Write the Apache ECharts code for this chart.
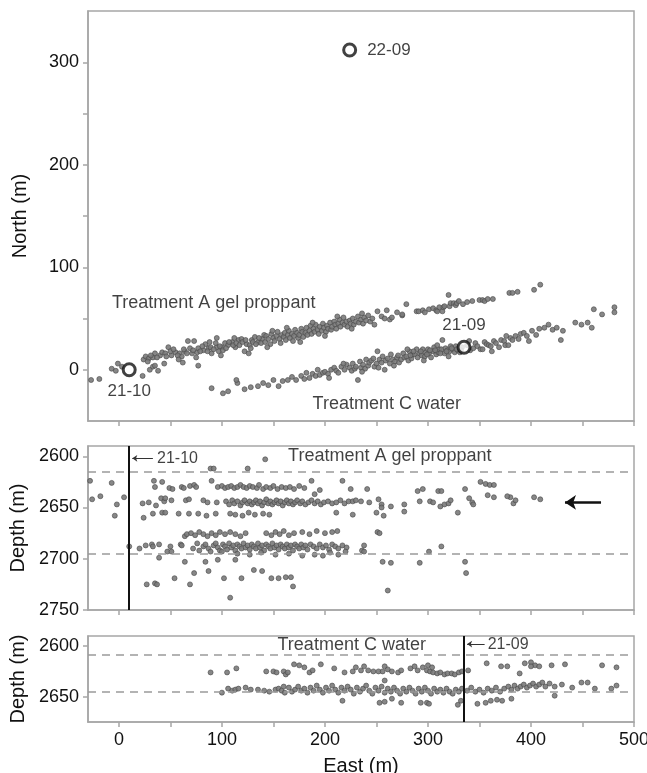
<!DOCTYPE html>
<html>
<head>
<meta charset="utf-8">
<script src="https://cdn.jsdelivr.net/npm/echarts@6/dist/echarts.min.js"></script>
<style>
  html, body { margin: 0; padding: 0; background: #fff; }
  #main { width: 647px; height: 773px; }
</style>
</head>
<body>
<div id="main"></div>
<script>
// axis ticks / labels
const eastTicks = [0, 50, 100, 150, 200, 250, 300, 350, 400, 450, 500];
const eastLabels = [0, 100, 200, 300, 400, 500];
const northTicks = [0, 50, 100, 150, 200, 250, 300];
const northLabels = [0, 100, 200, 300];
const depthATicks = [2600, 2650, 2700, 2750];
const depthCTicks = [2600, 2650];

// wells in map view [east, north]
const wellNames = ['22-09', '21-10', '21-09'];
const wellMap = [[224, 312], [10, 0], [335, 22]];
const wellLabelPos = ['right', 'bottom', 'top'];
const wellDepthA = 10;   // 21-10 east position
const wellDepthC = 335;  // 21-09 east position

// stage boundaries (depth)
const stageA = [2615, 2695];
const stageC = [2609, 2645];

// map view events: Treatment A [east, north]
const mapA = [
  [-27,-10],[-19,-9],[-7,1],[-3,-1],[-1,6],[3,3],[23,-6],[30,0],[33,3],[35,4],[38,-1],[44,6],[62,7],[77,4],
  [24,10],[26,13],[29,11],[33,12],[35,16],[40,14],[42,17],[45,16],[48,22],[51,14],[55,17],[59,16],[61,13],
  [64,18],[67,28],[71,16],[73,28],[76,17],[77,21],[82,19],[84,25],[87,21],[90,16],[95,31],[95,22],[97,18],
  [100,22],[103,26],[106,24],[110,27],[113,22],[116,29],[119,30],[122,18],[124,25],[126,16],[129,29],[132,32],
  [135,27],[139,30],[141,34],[28,8],[31,14],[37,12],[46,13],[50,18],[53,20],[57,14],[63,20],[66,16],[69,21],
  [72,19],[79,18],[81,23],[86,18],[89,22],[92,20],[94,26],[98,23],[101,19],[104,21],[107,27],[111,24],[114,26],
  [117,24],[120,27],[123,29],[127,24],[130,27],[133,25],[136,31],[138,26],
  [142,27],[143,33],[145,30],[147,25],[148,35],[150,31],[151,28],[153,33],[154,37],[156,30],[157,26],[158,34],
  [160,32],[161,36],[162,29],[164,34],[165,38],[166,31],[168,35],[169,28],[170,33],[171,39],[173,36],[174,31],
  [175,34],[177,40],[178,37],[179,32],[181,36],[182,41],[183,34],[185,38],[186,43],[187,35],[189,40],[190,37],
  [191,44],[193,39],[194,35],[195,42],[197,38],[198,45],[199,41],[201,37],[202,43],[203,40],[205,46],[206,39],
  [207,42],[209,47],[210,44],[211,40],[213,45],[214,49],[215,42],[217,46],[218,51],[219,44],[221,47],[222,42],
  [224,48],[225,45],[227,50],[228,44],[230,47],[232,52],[233,46],[235,49],[237,45],[238,51],[240,48],[242,53],
  [244,47],[246,50],[251,57],[255,52],[258,50],[263,49],[265,51],[270,56],[275,53],[275,54],[279,64],
  [289,57],[291,57],[295,58],[297,56],[301,59],[305,60],[308,58],[309,57],[311,61],[314,57],[315,61],[316,62],
  [320,73],[321,62],[322,65],[325,65],[327,63],[328,65],[330,67],[334,64],[338,66],[343,67],[350,68],[353,68],
  [355,67],[358,69],[363,69],[379,75],[382,75],[387,76],[403,78],[409,83],
  [58,10],[75,12],[88,27],[99,14],[112,31],[128,21],[144,22],[149,38],[163,41],[176,27],[188,46],[200,33],
  [212,52],[226,40],[236,55],[248,44],[260,58]
];

// map view events: Treatment C [east, north]
const mapC = [
  [90,-18],[101,-23],[106,-21],[115,-13],[114,-10],[122,-19],[135,-16],[128,-17],[140,-13],[145,-15],[150,-10],
  [155,-16],[159,-11],[164,-10],[168,-7],[172,-10],[177,-6],[180,-9],[185,-8],[188,-4],[191,-6],[193,0],[195,-5],
  [198,-3],[200,-2],[203,-4],[206,0],[209,2],[211,-1],[213,-3],[216,3],[219,0],[221,5],[224,2],[226,-1],[227,6],
  [229,1],[230,3],[232,-10],[234,8],[235,2],[237,5],[239,1],[240,10],[242,4],[243,7],[245,9],[247,11],[248,3],
  [250,6],[251,18],[253,10],[255,7],[256,13],[258,0],[259,9],[261,11],[263,6],[264,15],[266,10],[268,8],[270,12],
  [271,14],[272,7],[274,10],[276,16],[277,12],[279,13],[281,9],[282,18],[284,11],[285,15],[287,15],[289,20],
  [290,12],[292,16],[294,14],[295,20],[297,13],[298,17],[300,20],[301,16],[303,12],[305,18],[306,22],[308,15],
  [310,17],[311,20],[313,20],[314,29],[316,16],[317,21],[319,19],[321,18],[322,23],[324,20],[326,17],[327,23],
  [329,19],[331,17],[333,22],[338,24],[341,19],[344,21],[346,26],[348,23],[351,20],[353,20],[355,27],[357,25],
  [359,24],[361,23],[364,28],[366,26],[369,22],[371,29],[374,28],[375,24],[378,24],[380,31],[382,29],[385,33],
  [388,30],[390,35],[393,36],[396,33],[401,38],[405,34],[408,40],[413,41],[417,44],[421,39],[425,41],[429,29],
  [431,38],[443,46],[449,44],[455,46],[459,41],[461,59],[469,54],[481,61],[481,56],
  [283,14],[286,18],[293,18],[299,15],[302,19],[307,19],[312,16],[318,18],[323,21],[328,20],[332,19],
  [182,-3],[204,-8],[218,6],[236,-2],[252,2],[267,4],[280,20],[296,9],[309,24],[320,13],[340,28],[362,18],
  [376,33],[398,28]
];

// depth view events: Treatment A [east, depth]
const depthA = [
  [-28,2624],[-26,2642],[-18,2639],[-7,2626],[-4,2658],[-2,2647],[5,2640],[10,2688],
  [34,2624],[35,2630],[42,2625],[49,2631],[52,2632],[61,2630],[63,2631],[69,2629],[73,2628],[75,2630],
  [89,2612],[92,2612],[125,2612],[142,2603],
  [90,2624],[96,2630],[100,2629],[103,2631],[106,2630],[109,2629],[112,2631],[115,2630],[118,2628],[121,2630],
  [124,2631],[127,2629],[130,2630],[134,2631],[136,2628],[140,2632],[143,2630],[147,2631],[150,2629],[154,2632],
  [158,2630],[162,2631],[166,2630],[170,2632],[175,2629],[180,2631],[187,2624],[190,2637],[195,2633],
  [217,2624],[225,2632],[241,2632],
  [23,2646],[29,2645],[36,2648],[41,2641],[44,2644],[45,2641],[51,2643],[65,2643],[68,2642],[82,2643],[86,2645],
  [95,2645],[104,2644],[107,2647],[110,2643],[112,2646],[115,2644],[118,2648],[120,2645],[122,2643],[125,2646],
  [127,2644],[129,2647],[131,2645],[133,2643],[135,2646],[137,2644],[139,2648],[141,2645],[143,2642],[145,2646],
  [147,2644],[149,2647],[151,2645],[153,2643],[155,2646],[157,2644],[159,2648],[161,2645],[163,2643],[165,2646],
  [167,2644],[169,2647],[171,2645],[173,2643],[176,2646],[178,2644],[181,2647],[184,2645],[187,2643],[190,2646],
  [193,2644],[196,2647],[199,2645],[203,2644],[207,2646],[211,2645],[215,2643],[219,2646],[223,2644],[227,2644],
  [230,2643],[235,2644],[243,2645],[252,2642],[255,2647],[264,2649],[277,2647],[292,2644],[302,2644],[305,2645],
  [312,2649],[316,2647],[320,2646],[322,2643],[343,2645],[344,2647],[340,2641],[358,2638],[364,2640],[380,2640],
  [383,2646],[377,2639],[385,2643],[403,2640],[409,2642],[290,2634],[295,2632],[310,2634],[313,2634],[336,2632],
  [351,2625],[356,2627],[360,2628],[364,2628],[255,2650],
  [24,2660],[33,2656],[42,2655],[45,2655],[58,2656],[68,2656],[77,2656],[85,2658],[94,2656],[108,2656],[113,2657],
  [120,2658],[126,2655],[132,2657],[140,2656],[146,2657],[211,2655],[227,2657],[250,2655],[257,2658],[277,2654],
  [329,2655],
  [64,2678],[66,2676],[70,2675],[74,2677],[78,2674],[82,2676],[86,2678],[90,2675],[94,2677],[98,2674],[103,2676],
  [108,2674],[113,2676],[118,2678],[123,2675],[143,2675],[148,2677],[152,2674],[156,2676],[160,2673],[165,2677],
  [170,2675],[178,2674],[185,2676],[192,2673],[200,2675],[207,2674],[212,2673],[251,2674],[253,2675],
  [20,2690],[26,2687],[32,2686],[33,2688],[39,2686],[47,2693],[50,2688],[51,2693],[60,2686],[61,2687],[72,2690],
  [76,2685],[78,2692],[82,2688],[84,2686],[87,2690],[89,2693],[92,2687],[94,2685],[96,2689],[98,2692],[101,2686],
  [103,2688],[105,2691],[107,2685],[109,2689],[111,2687],[113,2692],[115,2686],[117,2688],[119,2690],[121,2685],
  [123,2689],[125,2687],[127,2691],[129,2686],[131,2688],[133,2690],[135,2685],[137,2689],[139,2687],[141,2692],
  [143,2686],[145,2688],[147,2690],[149,2685],[151,2689],[153,2687],[155,2691],[157,2686],[159,2688],[161,2690],
  [163,2686],[165,2689],[167,2687],[169,2692],[171,2686],[173,2688],[175,2690],[177,2686],[179,2689],[181,2687],
  [183,2691],[186,2686],[189,2688],[192,2690],[195,2686],[198,2689],[201,2687],[204,2691],[207,2686],[210,2688],
  [213,2690],[217,2687],[221,2689],[236,2692],[238,2687],[238,2693],
  [100,2693],[115,2695],[127,2696],[138,2694],[152,2696],[165,2695],[178,2697],[190,2696],[198,2697],[205,2694],
  [213,2696],[220,2693],[301,2693],[313,2688],
  [27,2725],[35,2724],[37,2725],[39,2699],[54,2719],[64,2703],[69,2725],[73,2714],[84,2703],[87,2712],[96,2701],
  [102,2719],[108,2738],[113,2701],[119,2719],[131,2711],[139,2712],[148,2719],[155,2719],[162,2718],[167,2718],
  [169,2727],[256,2703],[264,2704],[261,2731],[292,2704],[336,2703],[337,2714]
];

// depth view events: Treatment C [east, depth]
const depthC = [
  [89,2626],[105,2626],[114,2622],[143,2625],[150,2625],[153,2626],[160,2625],[162,2628],
  [164,2626],[170,2618],[175,2619],[180,2621],[185,2626],[188,2624],[196,2618],[209,2622],[219,2626],[227,2625],
  [230,2621],[235,2624],[238,2620],[242,2624],[247,2625],[252,2625],[256,2625],[258,2620],[261,2623],[265,2625],
  [271,2626],[274,2624],[283,2622],[287,2620],[290,2624],[295,2621],[300,2619],[299,2624],[302,2625],[304,2621],
  [305,2626],[309,2627],[312,2626],[316,2628],[319,2627],[323,2627],[326,2628],[330,2626],[333,2625],[339,2624],
  [357,2617],[371,2620],[377,2620],[389,2627],[394,2617],[400,2616],[404,2619],[408,2620],[420,2619],[433,2618],
  [400,2620],[469,2619],[483,2621],
  [100,2646],[106,2642],[110,2644],[113,2643],[116,2642],[123,2641],[128,2643],[135,2643],[141,2644],[146,2645],
  [152,2643],[155,2642],[158,2644],[160,2640],[161,2646],[165,2641],[168,2645],[171,2643],[174,2640],[177,2644],
  [180,2642],[183,2646],[186,2641],[189,2644],[192,2639],[195,2643],[198,2646],[201,2641],[204,2644],[207,2639],
  [210,2643],[213,2646],[216,2641],[219,2644],[222,2640],[225,2643],[228,2647],[231,2641],[234,2645],[237,2642],
  [240,2639],[243,2644],[246,2647],[249,2641],[252,2644],[255,2640],[258,2634],[258,2646],[261,2642],[264,2645],
  [267,2641],[270,2644],[273,2647],[276,2642],[279,2645],[282,2641],[285,2644],[288,2647],[291,2642],[294,2645],
  [297,2641],[300,2644],[303,2647],[306,2642],[309,2645],[312,2643],[315,2646],[318,2642],[321,2645],[324,2647],
  [327,2643],[330,2645],[333,2642],[338,2644],[342,2641],[346,2645],[350,2643],[354,2646],[358,2642],[362,2644],
  [366,2641],[370,2645],[374,2642],[378,2640],[381,2643],[384,2639],[387,2642],[390,2640],[393,2638],[396,2641],
  [399,2639],[402,2637],[405,2640],[408,2638],[411,2636],[414,2640],[418,2637],[423,2640],[430,2638],[440,2641],
  [449,2636],[455,2636],[462,2642],[478,2642],[483,2639],
  [217,2654],[253,2656],[258,2655],[265,2652],[274,2656],[293,2656],[299,2656],[301,2657],[329,2658],[332,2654],
  [348,2657],[356,2656],[361,2654],[367,2653],[372,2654],[381,2652],[423,2649]
];

// text annotations [east, y, text]
const notesMap = [[92, 65, 'Treatment A gel proppant'], [260, -33, 'Treatment C water']];
const notesA = [[263, 2600, 'Treatment A gel proppant']];
const notesC = [[226, 2599, 'Treatment C water']];

const chart = echarts.init(document.getElementById('main'));
const FONT = 'Liberation Sans, Arial, Helvetica, sans-serif';
const frame = '#a6a6a6';
const dotStyle = { color: '#7a7a7a', borderColor: '#4a4a4a', borderWidth: 0.7, opacity: 0.9 };

function xAxisFor(gi, withLabels) {
  return {
    type: 'value', gridIndex: gi, min: -30, max: 500,
    name: withLabels ? 'East (m)' : '',
    nameLocation: 'middle', nameGap: 34,
    nameTextStyle: { fontFamily: FONT, fontSize: 20, color: '#111' },
    axisLine: { show: true, onZero: false, lineStyle: { color: frame, width: 1.5 } },
    axisTick: { show: true, length: 5, lineStyle: { color: frame, width: 1.5 }, customValues: eastTicks },
    axisLabel: { show: withLabels, customValues: eastLabels, margin: 9, fontFamily: FONT, fontSize: 18, color: '#111',
                 formatter: v => String(v) },
    splitLine: { show: false }
  };
}
function yAxisFor(gi, min, max, ticks, labels, name, inverse) {
  return {
    type: 'value', gridIndex: gi, min: min, max: max, inverse: inverse,
    name: name, nameLocation: 'middle', nameGap: 58, nameRotate: 90,
    nameTextStyle: { fontFamily: FONT, fontSize: 20, color: '#111' },
    axisLine: { show: true, onZero: false, lineStyle: { color: frame, width: 1.5 } },
    axisTick: { show: true, length: 5, lineStyle: { color: frame, width: 1.5 }, customValues: ticks },
    axisLabel: { customValues: labels, margin: 9, fontFamily: FONT, fontSize: 18, color: '#111',
                 formatter: v => String(v) },
    splitLine: { show: false }
  };
}
function textSeries(xi, yi, notes, size) {
  return {
    type: 'scatter', xAxisIndex: xi, yAxisIndex: yi, symbolSize: 0, silent: true, z: 5,
    data: notes.map(n => ({ value: [n[0], n[1]], name: n[2] })),
    label: { show: true, position: 'inside', formatter: p => p.name, fontFamily: FONT, fontSize: size, color: '#111' }
  };
}
const dashed = { color: '#9a9a9a', type: [8, 6], width: 1.5 };
const gridBase = { left: 88, width: 546, show: true, borderColor: frame, borderWidth: 1.5,
                   containLabel: false, outerBoundsMode: 'none' };

const option = {
  animation: false,
  backgroundColor: '#fff',
  grid: [
    Object.assign({ top: 11, height: 410 }, gridBase),
    Object.assign({ top: 446, height: 164 }, gridBase),
    Object.assign({ top: 636, height: 86 }, gridBase)
  ],
  xAxis: [xAxisFor(0, false), xAxisFor(1, false), xAxisFor(2, true)],
  yAxis: [
    yAxisFor(0, -50, 350, northTicks, northLabels, 'North (m)', false),
    yAxisFor(1, 2590, 2750, depthATicks, depthATicks, 'Depth (m)', true),
    yAxisFor(2, 2590, 2675, depthCTicks, depthCTicks, 'Depth (m)', true)
  ],
  series: [
    { type: 'scatter', xAxisIndex: 0, yAxisIndex: 0, symbolSize: 5, itemStyle: dotStyle, data: mapA },
    { type: 'scatter', xAxisIndex: 0, yAxisIndex: 0, symbolSize: 5, itemStyle: dotStyle, data: mapC },
    {
      type: 'scatter', xAxisIndex: 0, yAxisIndex: 0, symbolSize: 12, z: 4,
      itemStyle: { color: '#fff', borderColor: '#111', borderWidth: 3 },
      data: wellMap.map((w, i) => ({
        value: w, name: wellNames[i],
        label: { position: wellLabelPos[i], distance: i === 0 ? 10 : 6 }
      })),
      label: { show: true, formatter: p => p.name, fontFamily: FONT, fontSize: 17, color: '#111' }
    },
    textSeries(0, 0, notesMap, 18),
    {
      type: 'scatter', xAxisIndex: 1, yAxisIndex: 1, symbolSize: 5, itemStyle: dotStyle, data: depthA,
      markLine: {
        silent: true, symbol: ['none', 'none'], label: { show: false },
        data: [
          { yAxis: stageA[0], lineStyle: dashed },
          { yAxis: stageA[1], lineStyle: dashed },
          { xAxis: wellDepthA, lineStyle: { color: '#111', width: 2, type: 'solid' } },
          [{ coord: [33, 2602], symbol: 'none' },
           { coord: [13, 2602], symbol: 'arrow', symbolSize: 5, lineStyle: { color: '#333', width: 1, type: 'solid' } }],
          [{ coord: [468, 2645], symbol: 'none' },
           { coord: [433, 2645], symbol: 'arrow', symbolSize: 11, lineStyle: { color: '#111', width: 2.5, type: 'solid' } }]
        ]
      }
    },
    textSeries(1, 1, notesA, 18),
    {
      type: 'scatter', xAxisIndex: 1, yAxisIndex: 1, symbolSize: 0, silent: true,
      data: [{ value: [37, 2602], name: '21-10' }],
      label: { show: true, position: 'right', distance: 0, formatter: p => p.name, fontFamily: FONT, fontSize: 16, color: '#111' }
    },
    {
      type: 'scatter', xAxisIndex: 2, yAxisIndex: 2, symbolSize: 5, itemStyle: dotStyle, data: depthC,
      markLine: {
        silent: true, symbol: ['none', 'none'], label: { show: false },
        data: [
          { yAxis: stageC[0], lineStyle: dashed },
          { yAxis: stageC[1], lineStyle: dashed },
          { xAxis: wellDepthC, lineStyle: { color: '#111', width: 2, type: 'solid' } },
          [{ coord: [355, 2598], symbol: 'none' },
           { coord: [338, 2598], symbol: 'arrow', symbolSize: 5, lineStyle: { color: '#333', width: 1, type: 'solid' } }]
        ]
      }
    },
    textSeries(2, 2, notesC, 18),
    {
      type: 'scatter', xAxisIndex: 2, yAxisIndex: 2, symbolSize: 0, silent: true,
      data: [{ value: [358, 2598], name: '21-09' }],
      label: { show: true, position: 'right', distance: 0, formatter: p => p.name, fontFamily: FONT, fontSize: 16, color: '#111' }
    }
  ]
};
chart.setOption(option);
</script>
</body>
</html>
